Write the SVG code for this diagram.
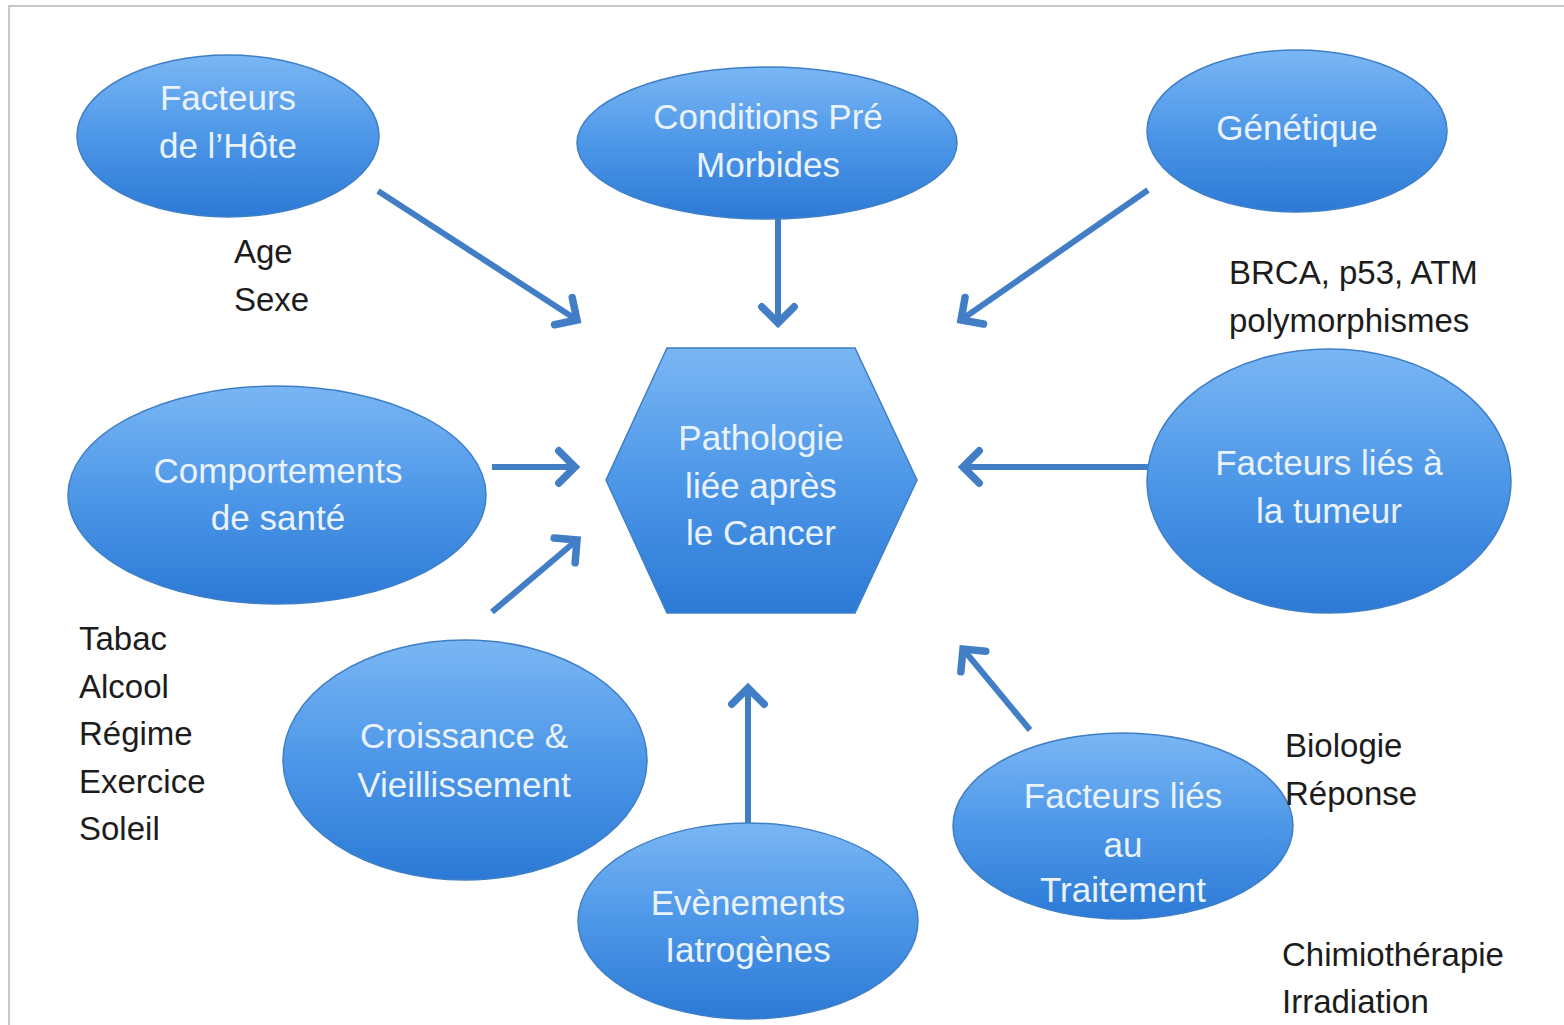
<svg xmlns="http://www.w3.org/2000/svg" width="1564" height="1025" viewBox="0 0 1564 1025">
  <defs>
    <linearGradient id="blue" x1="0" y1="0" x2="0" y2="1">
      <stop offset="0" stop-color="#7ab6f4"/>
      <stop offset="0.5" stop-color="#4d97e8"/>
      <stop offset="1" stop-color="#2c7ad6"/>
    </linearGradient>
    <marker id="head" markerUnits="strokeWidth" viewBox="-5 -5 10 10" refX="0" refY="0" markerWidth="10" markerHeight="10" orient="auto" overflow="visible">
      <path d="M-2.7,-2.7 L0,0 L-2.7,2.7" fill="none" stroke="#417ec6" stroke-width="1.25" stroke-linecap="round" stroke-linejoin="miter"/>
    </marker>
    <style>
      .node { fill: url(#blue); stroke: #3f7fc6; stroke-width: 1.5; }
      .nt { font-family: "Liberation Sans", Arial, sans-serif; font-size: 35px; fill: #eaf2fb; text-anchor: middle; }
      .lbl { font-family: "Liberation Sans", Arial, sans-serif; font-size: 33px; fill: #1c1c1c; }
      .arrow { stroke: #417ec6; stroke-width: 6; fill: none; marker-end: url(#head); }
    </style>
  </defs>
  <rect width="1564" height="1025" fill="#ffffff"/>
  <path d="M9,1025 V6 H1564" fill="none" stroke="#c8c8c8" stroke-width="2"/>

  <g id="connectors">
    <line class="arrow" x1="378" y1="191" x2="577" y2="320"/>
    <line class="arrow" x1="778" y1="219" x2="778" y2="323"/>
    <line class="arrow" x1="1148" y1="190" x2="961" y2="320"/>
    <line class="arrow" x1="492" y1="467" x2="575" y2="467"/>
    <line class="arrow" x1="492" y1="612" x2="577" y2="540"/>
    <line class="arrow" x1="1148" y1="467" x2="963" y2="467"/>
    <line class="arrow" x1="748" y1="828" x2="748" y2="688"/>
    <line class="arrow" x1="1030" y1="730" x2="963" y2="649"/>
  </g>

  <g id="hote">
    <ellipse class="node" cx="228" cy="136" rx="151" ry="81"/>
    <text class="nt" x="228" y="110">Facteurs</text>
    <text class="nt" x="228" y="158">de l’Hôte</text>
  </g>
  <g id="premorbides">
    <ellipse class="node" cx="767" cy="143" rx="190" ry="76"/>
    <text class="nt" x="768" y="129">Conditions Pré</text>
    <text class="nt" x="768" y="177">Morbides</text>
  </g>
  <g id="genetique">
    <ellipse class="node" cx="1297" cy="131" rx="150" ry="81"/>
    <text class="nt" x="1297" y="140">Génétique</text>
  </g>
  <g id="comportements">
    <ellipse class="node" cx="277" cy="495" rx="209" ry="109"/>
    <text class="nt" x="278" y="483">Comportements</text>
    <text class="nt" x="278" y="530">de santé</text>
  </g>
  <g id="tumeur">
    <ellipse class="node" cx="1329" cy="481" rx="182" ry="132"/>
    <text class="nt" x="1329" y="475">Facteurs liés à</text>
    <text class="nt" x="1329" y="523">la tumeur</text>
  </g>
  <g id="croissance">
    <ellipse class="node" cx="465" cy="760" rx="182" ry="120"/>
    <text class="nt" x="464" y="748">Croissance &amp;</text>
    <text class="nt" x="464" y="797">Vieillissement</text>
  </g>
  <g id="iatrogenes">
    <ellipse class="node" cx="748" cy="921" rx="170" ry="98"/>
    <text class="nt" x="748" y="915">Evènements</text>
    <text class="nt" x="748" y="962">Iatrogènes</text>
  </g>
  <g id="traitement">
    <ellipse class="node" cx="1123" cy="826" rx="170" ry="93"/>
    <text class="nt" x="1123" y="808">Facteurs liés</text>
    <text class="nt" x="1123" y="857">au</text>
    <text class="nt" x="1123" y="902">Traitement</text>
  </g>
  <rect x="1279" y="879" width="30" height="45" fill="#ffffff"/>
  <g id="pathologie">
    <polygon class="node" points="667,348 855,348 917,480 855,613 667,613 606,480"/>
    <text class="nt" x="761" y="450">Pathologie</text>
    <text class="nt" x="761" y="498">liée après</text>
    <text class="nt" x="761" y="545">le Cancer</text>
  </g>

  <g id="labels">
    <text class="lbl" x="234" y="263">Age</text>
    <text class="lbl" x="234" y="311">Sexe</text>
    <text class="lbl" x="1229" y="284">BRCA, p53, ATM</text>
    <text class="lbl" x="1229" y="332">polymorphismes</text>
    <text class="lbl" x="79" y="650">Tabac</text>
    <text class="lbl" x="79" y="698">Alcool</text>
    <text class="lbl" x="79" y="745">Régime</text>
    <text class="lbl" x="79" y="793">Exercice</text>
    <text class="lbl" x="79" y="840">Soleil</text>
    <text class="lbl" x="1285" y="757">Biologie</text>
    <text class="lbl" x="1285" y="805">Réponse</text>
    <text class="lbl" x="1282" y="966">Chimiothérapie</text>
    <text class="lbl" x="1282" y="1013">Irradiation</text>
  </g>
</svg>
